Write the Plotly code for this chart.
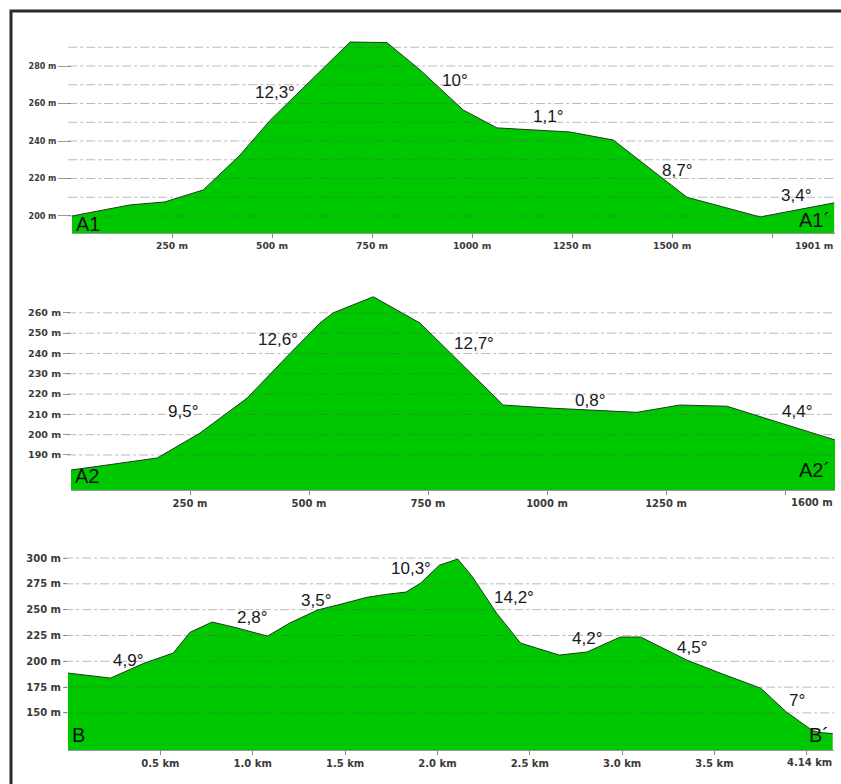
import plotly.graph_objects as go

# ---------------- data ----------------
# Profile A1 (distance m, elevation m)
a1_dist = [0, 145, 232, 328, 420, 495, 695, 787, 870, 978, 1062, 1245, 1353, 1537, 1720, 1905]
a1_elev = [200, 205.9, 207.5, 213.9, 232.5, 251, 292.8, 292.5, 277.9, 256.5, 247, 244.8, 240.5, 210, 199.5, 207]
a1_ticks = [250, 500, 750, 1000, 1250, 1500, 1750]
a1_ticktext = ["250 m", "500 m", "750 m", "1000 m", "1250 m", "1500 m", ""]
a1_yticks = [200, 220, 240, 260, 280]
a1_grid = [200, 210, 220, 230, 240, 250, 260, 270, 280, 290]
a1_end_label = "1901 m"
a1_slopes = ["12,3°", "10°", "1,1°", "8,7°", "3,4°"]
a1_slope_x = [507, 957, 1190, 1512, 1810]
a1_slope_y = [265.6, 272.5, 252.8, 224.5, 210.7]
a1_names = ["A1", "A1´"]

# Profile A2
a2_dist = [0, 181, 271, 370, 460, 523, 551, 635, 733, 908, 1013, 1189, 1279, 1378, 1490, 1605]
a2_elev = [182.6, 188.5, 200.8, 218, 240, 255, 260, 267.9, 255, 214.6, 213, 211, 214.6, 214, 205.8, 197.4]
a2_ticks = [250, 500, 750, 1000, 1250, 1500]
a2_ticktext = ["250 m", "500 m", "750 m", "1000 m", "1250 m", ""]
a2_yticks = [190, 200, 210, 220, 230, 240, 250, 260]
a2_grid = [190, 200, 210, 220, 230, 240, 250, 260]
a2_end_label = "1600 m"
a2_slopes = ["9,5°", "12,6°", "12,7°", "0,8°", "4,4°"]
a2_slope_x = [235, 435, 847, 1090, 1525]
a2_slope_y = [211.2, 246.7, 244.7, 217, 211.2]
a2_names = ["A2", "A2´"]

# Profile B (distance km, elevation m)
b_dist = [0, 0.23, 0.41, 0.57, 0.66, 0.78, 0.90, 1.08, 1.20, 1.35, 1.46, 1.62, 1.73, 1.83,
          1.91, 2.01, 2.11, 2.19, 2.32, 2.45, 2.66, 2.81, 2.99, 3.10, 3.35, 3.53, 3.75, 3.89, 4.03, 4.07, 4.14]
b_elev = [188.6, 183.7, 198, 208, 228, 238, 233, 224.4, 237, 249.6, 254.5, 262, 265, 267,
          275.8, 293, 299, 281.6, 246.7, 217.6, 206, 209, 223.5, 223.5, 201.2, 188.6, 174, 150.8, 133, 131, 130]
b_ticks = [0.5, 1.0, 1.5, 2.0, 2.5, 3.0, 3.5, 4.0]
b_ticktext = ["0.5 km", "1.0 km", "1.5 km", "2.0 km", "2.5 km", "3.0 km", "3.5 km", ""]
b_yticks = [150, 175, 200, 225, 250, 275, 300]
b_grid = [150, 175, 200, 225, 250, 275, 300]
b_end_label = "4.14 km"
b_slopes = ["4,9°", "2,8°", "3,5°", "10,3°", "14,2°", "4,2°", "4,5°", "7°"]
b_slope_x = [0.327, 0.998, 1.345, 1.858, 2.416, 2.81, 3.38, 3.947]
b_slope_y = [201.2, 242.8, 259.3, 290.3, 262.2, 222.5, 213.8, 162.4]
b_names = ["B", "B´"]

# ---------------- layout helpers ----------------
W, H = 841, 784
GREEN = "#00c800"
TICKFAM = "DejaVu Sans"
LABELFONT = dict(family="Liberation Sans, Arial", size=17, color="#1a1a1a")
NAMEFONT = dict(family="Liberation Sans, Arial", size=20, color="#111111")


def tfont(size):
    return dict(family=TICKFAM, size=size, color="#3a3a3a", weight="bold")


panels = [
    dict(dist=a1_dist, elev=a1_elev, ticks=a1_ticks, ticktext=a1_ticktext, yticks=a1_yticks,
         grid=a1_grid, end=a1_end_label, slopes=a1_slopes, sx=a1_slope_x, sy=a1_slope_y,
         names=a1_names, xfs=9.2, yfs=8, ylen=13,
         xpx=(72, 835), ypx=(40, 233), xr=(0, 1907), yr=(190.93, 293.87), name_y=(195.7, 197.8)),
    dict(dist=a2_dist, elev=a2_elev, ticks=a2_ticks, ticktext=a2_ticktext, yticks=a2_yticks,
         grid=a2_grid, end=a2_end_label, slopes=a2_slopes, sx=a2_slope_x, sy=a2_slope_y,
         names=a2_names, xfs=10, yfs=9.5, ylen=7,
         xpx=(71, 835), ypx=(285, 490), xr=(0, 1605), yr=(172.76, 273.7), name_y=(179.7, 182.6)),
    dict(dist=b_dist, elev=b_elev, ticks=b_ticks, ticktext=b_ticktext, yticks=b_yticks,
         grid=b_grid, end=b_end_label, slopes=b_slopes, sx=b_slope_x, sy=b_slope_y,
         names=b_names, xfs=10, yfs=10, ylen=4,
         xpx=(68, 834), ypx=(545, 750), xr=(0, 4.147), yr=(114.1, 312.6), name_y=(128.5, 128.5)),
]

fig = go.Figure()
shapes = []
annotations = []

for i, p in enumerate(panels, start=1):
    xa = "x" if i == 1 else f"x{i}"
    ya = "y" if i == 1 else f"y{i}"
    xkey = "xaxis" if i == 1 else f"xaxis{i}"
    ykey = "yaxis" if i == 1 else f"yaxis{i}"

    fig.add_trace(go.Scatter(
        x=p["dist"], y=p["elev"], mode="lines", fill="tozeroy",
        fillcolor=GREEN, line=dict(color="#1f3a1f", width=1),
        xaxis=xa, yaxis=ya, showlegend=False, hoverinfo="skip"))

    x0, x1 = p["xpx"]
    t, b = p["ypx"]
    fig.layout[xkey] = dict(
        domain=[x0 / W, x1 / W], range=list(p["xr"]), anchor=ya,
        tickvals=p["ticks"], ticktext=p["ticktext"], ticks="outside", ticklen=4,
        tickcolor="#888888", showgrid=False, zeroline=False, showline=True,
        linecolor="#9a9a9a", linewidth=1, tickfont=tfont(p["xfs"]), fixedrange=True)
    fig.layout[ykey] = dict(
        domain=[1 - b / H, 1 - t / H], range=list(p["yr"]), anchor=xa,
        tickvals=p["yticks"], ticktext=[f"{v} m" for v in p["yticks"]],
        ticks="outside", ticklen=p["ylen"], tickcolor="#9a9a9a", showgrid=False,
        zeroline=False, showline=False, tickfont=tfont(p["yfs"]), fixedrange=True)

    for v in p["grid"]:
        shapes.append(dict(type="line", xref=f"{xa} domain", yref=ya,
                           x0=-0.005, x1=1, y0=v, y1=v, layer="above",
                           line=dict(color="rgba(90,90,90,0.42)", width=1, dash="dashdot")))

    # end-of-profile distance label (right aligned under the axis end)
    annotations.append(dict(text=p["end"], xref=f"{xa} domain", yref=f"{ya} domain",
                            x=1, y=0, xanchor="right", yanchor="top", yshift=-5,
                            showarrow=False, font=tfont(p["xfs"])))

    for s, yv, lab in zip(p["sx"], p["sy"], p["slopes"]):
        annotations.append(dict(text=lab, x=s, y=yv, xref=xa, yref=ya, showarrow=False,
                                font=LABELFONT, xanchor="center", yanchor="middle"))
    annotations.append(dict(text=p["names"][0], xref=f"{xa} domain", yref=ya,
                            x=0.002, y=p["name_y"][0], xanchor="left", yanchor="middle",
                            showarrow=False, font=NAMEFONT))
    annotations.append(dict(text=p["names"][1], xref=f"{xa} domain", yref=ya,
                            x=0.996, y=p["name_y"][1], xanchor="right", yanchor="middle",
                            showarrow=False, font=NAMEFONT))

# outer frame
shapes.append(dict(type="rect", xref="paper", yref="paper",
                   x0=11 / W, x1=1 + 6 / W, y0=-6 / H, y1=1 - 11 / H,
                   line=dict(color="#2b2b2b", width=3), layer="above"))

fig.update_layout(
    width=W, height=H, margin=dict(l=0, r=0, t=0, b=0),
    paper_bgcolor="white", plot_bgcolor="white",
    shapes=shapes, annotations=annotations, showlegend=False)

fig.write_html("out.html", config={"displayModeBar": False},
               post_script="document.body.style.margin='0';document.body.style.overflow='hidden';")
